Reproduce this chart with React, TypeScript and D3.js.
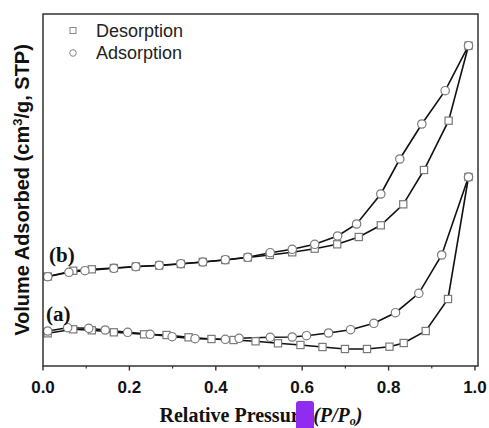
import React from "react";
import * as d3 from "d3";

// (b) sample
const bAdsX = [0.011, 0.06, 0.097, 0.164, 0.215, 0.269, 0.319, 0.37, 0.422, 0.474, 0.526, 0.577, 0.629, 0.682, 0.726, 0.782, 0.826, 0.877, 0.931, 0.985];
const bAdsY = [89.3, 93.7, 95.3, 97.7, 99.3, 100.7, 102.3, 104, 106.3, 108.7, 113.3, 116.7, 121.7, 130, 142, 172, 207, 242, 275.3, 320.3];
const bDesX = [0.985, 0.939, 0.882, 0.834, 0.782, 0.731, 0.681, 0.629, 0.577, 0.525, 0.474, 0.422, 0.37, 0.319, 0.269, 0.215, 0.164, 0.113, 0.07, 0.011];
const bDesY = [320.3, 245.3, 196, 161.7, 140.7, 129, 121.7, 117.3, 113.7, 111, 108.5, 106, 104, 102, 100.5, 99.5, 98, 96.7, 95.3, 89.5];

// (a) sample
const aAdsX = [0.011, 0.057, 0.106, 0.144, 0.196, 0.248, 0.299, 0.352, 0.422, 0.454, 0.526, 0.577, 0.61, 0.661, 0.712, 0.766, 0.816, 0.87, 0.923, 0.985];
const aAdsY = [35, 38.3, 37.7, 36, 33.7, 31.7, 29.3, 27.3, 26.7, 27.7, 28.7, 29, 30.3, 33, 36.3, 42.7, 53.3, 72.7, 111, 189];
const aDesX = [0.985, 0.9375, 0.886, 0.835, 0.802, 0.75, 0.699, 0.647, 0.596, 0.544, 0.492, 0.441, 0.39, 0.337, 0.286, 0.234, 0.164, 0.113, 0.07, 0.011];
const aDesY = [189, 67, 35, 23, 19.3, 17, 17, 19, 21, 22.7, 24.7, 26, 27, 28.7, 31, 31.7, 33.7, 35.7, 36.7, 32.7];

const xTicks = [0, 0.2, 0.4, 0.6, 0.8, 1.0];
const xMinor = [0.1, 0.3, 0.5, 0.7, 0.9];

const W = 489;
const H = 428;
const left = 43, right = 478, top = 14, bottom = 366;

const zip = (xs: number[], ys: number[]) => xs.map((x, i) => [x, ys[i]] as [number, number]);

export default function App() {
  const x = d3.scaleLinear().domain([0, 1.007]).range([left, right]);
  const y = d3.scaleLinear().domain([0, 352]).range([bottom, top]);
  const line = d3.line<[number, number]>().x(d => x(d[0])).y(d => y(d[1]));

  const series = [
    { pts: zip(bDesX, bDesY), kind: "sq" },
    { pts: zip(aDesX, aDesY), kind: "sq" },
    { pts: zip(bAdsX, bAdsY), kind: "ci" },
    { pts: zip(aAdsX, aAdsY), kind: "ci" },
  ];

  const sans = "'Liberation Sans', Arial, sans-serif";
  const serif = "'Liberation Serif', 'Times New Roman', serif";

  return (
    <svg width={W} height={H} style={{ position: "absolute", left: 0, top: 0, background: "#fff" }}>
      <rect x={0} y={0} width={W} height={H} fill="#fff" />
      {series.map((s, i) => (
        <path key={"l" + i} d={line(s.pts) || ""} fill="none" stroke="#111" strokeWidth={1.6} />
      ))}
      {series.map((s, i) =>
        s.pts.map((p, j) =>
          s.kind === "sq" ? (
            <rect key={`m${i}-${j}`} x={x(p[0]) - 3.6} y={y(p[1]) - 3.6} width={7.2} height={7.2}
              fill="#fff" stroke="#7a7a7a" strokeWidth={1.2} />
          ) : (
            <circle key={`m${i}-${j}`} cx={x(p[0])} cy={y(p[1])} r={4.2}
              fill="#fff" stroke="#7a7a7a" strokeWidth={1.2} />
          )
        )
      )}
      <rect x={left} y={top} width={right - left} height={bottom - top} fill="none" stroke="#333" strokeWidth={1.5} />
      {xTicks.map(t => (
        <g key={"t" + t}>
          <line x1={x(t)} x2={x(t)} y1={bottom} y2={bottom + 4.5} stroke="#333" strokeWidth={1.4} />
          <text x={x(t)} y={393} textAnchor="middle" fontFamily={sans} fontWeight="bold" fontSize={17} fill="#111">
            {d3.format(".1f")(t)}
          </text>
        </g>
      ))}
      {xMinor.map(t => (
        <line key={"m" + t} x1={x(t)} x2={x(t)} y1={bottom} y2={bottom + 2.5} stroke="#333" strokeWidth={1.2} />
      ))}
      <text x={261} y={422} textAnchor="middle" fontFamily={serif} fontWeight="bold" fontSize={20} fill="#111">
        Relative Pressure <tspan fontStyle="italic">(P/P</tspan>
        <tspan fontStyle="italic" fontSize={12} dy={3}>o</tspan>
        <tspan fontStyle="italic" dy={-3}>)</tspan>
      </text>
      <rect x={296} y={401} width={18} height={30} rx={3} fill="#8f2cf0" />
      <text transform="translate(29,190) rotate(-90)" textAnchor="middle" fontFamily={sans} fontWeight="bold" fontSize={20} fill="#111">
        Volume Adsorbed (cm<tspan fontSize={13} dy={-7}>3</tspan><tspan dy={7}>/g, STP)</tspan>
      </text>
      <text x={49} y={262} fontFamily={serif} fontWeight="bold" fontSize={21} fill="#111">(b)</text>
      <text x={46} y={321} fontFamily={serif} fontWeight="bold" fontSize={21} fill="#111">(a)</text>
      <rect x={70} y={27.5} width={6} height={6} fill="#fff" stroke="#888" strokeWidth={1} />
      <text x={96} y={37} fontFamily={sans} fontSize={18} fill="#222">Desorption</text>
      <circle cx={73} cy={53} r={3.3} fill="#fff" stroke="#888" strokeWidth={1} />
      <text x={96} y={59} fontFamily={sans} fontSize={18} fill="#222">Adsorption</text>
    </svg>
  );
}
